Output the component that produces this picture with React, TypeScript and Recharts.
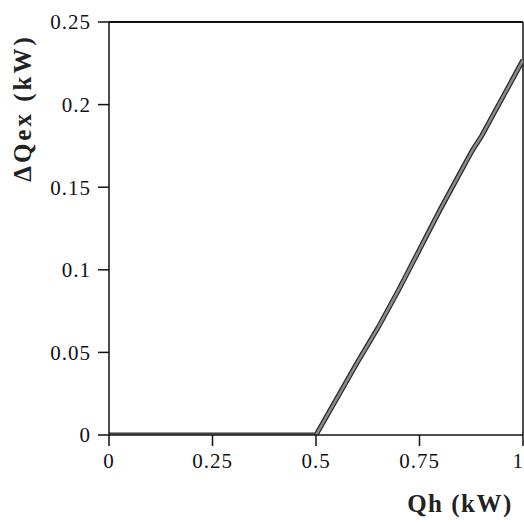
import React from 'react';
import { LineChart, Line, XAxis, YAxis, ReferenceLine } from 'recharts';

// Qh (kW) values and matching ΔQex (kW)
const qh = [0, 0.25, 0.5, 0.6, 0.65, 0.7, 0.8, 0.877, 0.9, 1.0];
const dQex = [0, 0, 0, 0.044, 0.065, 0.088, 0.1365, 0.172, 0.181, 0.227];

const xTicks = [0, 0.25, 0.5, 0.75, 1];
const yTicks = [0, 0.05, 0.1, 0.15, 0.2, 0.25];

const data = qh.map((x, i) => ({ qh: x, dq: dQex[i] }));

const serif = 'Liberation Serif, Times New Roman, serif';
const tickStyle = { fontSize: 21, fill: '#111', fontFamily: serif, letterSpacing: 1 };

// last x tick sits on the right edge, so anchor it at its end to keep it on the page
const XTick = ({ x, y, payload }: any) => {
  const last = payload.value === xTicks[xTicks.length - 1];
  return (
    <text
      x={last ? 524 : x}
      y={y}
      dy="0.71em"
      textAnchor={last ? 'end' : 'middle'}
      fontFamily={serif}
      fontSize={21}
      letterSpacing={1}
      fill="#111"
    >
      {String(payload.value)}
    </text>
  );
};

const App: React.FC = () => {
  return (
    <div style={{ position: 'absolute', left: 0, top: 0, background: '#fff' }}>
      <LineChart
        width={524}
        height={523}
        data={data}
        margin={{ top: 22, right: 1, left: 0, bottom: 58 }}
      >
        <XAxis
          type="number"
          dataKey="qh"
          domain={[0, 1]}
          ticks={xTicks}
          tick={<XTick />}
          tickSize={11}
          tickMargin={7}
          height={30}
          interval={0}
          stroke="#111"
          strokeWidth={1.5}
          allowDataOverflow
          label={{
            content: () => (
              <text
                x={460}
                y={512}
                textAnchor="middle"
                fontFamily={serif}
                fontWeight="bold"
                fontSize={25}
                letterSpacing={1.5}
                fill="#222"
              >
                Qh (kW)
              </text>
            ),
          }}
        />
        <YAxis
          type="number"
          domain={[0, 0.25]}
          ticks={yTicks}
          tickFormatter={(v: number) => String(v)}
          tick={tickStyle}
          tickSize={11}
          tickMargin={7}
          width={109}
          interval={0}
          stroke="#111"
          strokeWidth={1.5}
          allowDataOverflow
          label={{
            content: () => (
              <text
                x={31}
                y={108}
                transform="rotate(-90 31 108)"
                textAnchor="middle"
                fontFamily={serif}
                fontWeight="bold"
                fontSize={25}
                letterSpacing={3}
                fill="#222"
              >
                ΔQex (kW)
              </text>
            ),
          }}
        />
        <ReferenceLine y={0.25} stroke="#111" strokeWidth={2} />
        <ReferenceLine x={1} stroke="#111" strokeWidth={1.5} />
        <Line
          type="linear"
          dataKey="dq"
          stroke="#2a2a2a"
          strokeWidth={5}
          dot={false}
          isAnimationActive={false}
        />
        <Line
          type="linear"
          dataKey="dq"
          stroke="#8c8c8c"
          strokeWidth={2.5}
          dot={false}
          isAnimationActive={false}
        />
      </LineChart>
    </div>
  );
};

export default App;
